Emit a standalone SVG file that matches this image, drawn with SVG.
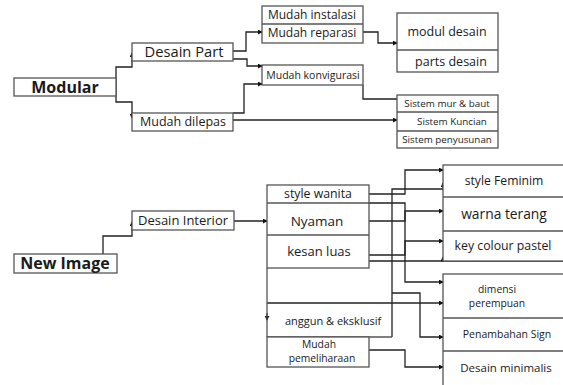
<svg xmlns="http://www.w3.org/2000/svg" width="563" height="385" viewBox="0 0 563 385">
<style>
.b{fill:#fff;stroke:#555;stroke-width:1.3}
.l{fill:none;stroke:#555;stroke-width:1.3}
.c{fill:none;stroke:#222;stroke-width:1.3}
text{font-family:"Open Sans","Liberation Sans",Arial,sans-serif;fill:#1a1a1a;text-anchor:middle}
</style>
<defs>
<marker id="a" viewBox="0 0 6 6" refX="5" refY="3" markerWidth="5" markerHeight="5" markerUnits="userSpaceOnUse" orient="auto"><path d="M0,0L6,3L0,6z" fill="#111"/></marker>
</defs>
<rect width="563" height="385" fill="#fff"/>
<g id="connectors">
<path class="c" d="M116,87V67H132V53" marker-end="url(#a)"/>
<path class="c" d="M116,87V102H132V118" marker-end="url(#a)"/>
<path class="c" d="M233,51H246V32H262" marker-end="url(#a)"/>
<path class="c" d="M233,59H247V66H262" marker-end="url(#a)"/>
<path class="c" d="M233,113H244V84H262" marker-end="url(#a)"/>
<path class="c" d="M233,120H397" marker-end="url(#a)"/>
<path class="c" d="M363,32H378V43H397" marker-end="url(#a)"/>
<path class="c" d="M363,85V99H397"/>
<path class="c" d="M103,254V236H132V222" marker-end="url(#a)"/>
<path class="c" d="M234,221H267" marker-end="url(#a)"/>
<path class="c" d="M369,194H405V170H443" marker-end="url(#a)"/>
<path class="c" d="M369,203H405V282H443" marker-end="url(#a)"/>
<path class="c" d="M369,221H405V211H443" marker-end="url(#a)"/>
<path class="c" d="M369,255H405V241H443" marker-end="url(#a)"/>
<path class="c" d="M369,261H563"/>
<path class="c" d="M443,262V257" marker-end="url(#a)"/>
<path class="c" d="M392,337V189H443V183" marker-end="url(#a)"/>
<path class="c" d="M392,293H420V337H443" marker-end="url(#a)"/>
<path class="c" d="M267,303H443" marker-end="url(#a)"/>
<path class="c" d="M369,350H405V367H443" marker-end="url(#a)"/>
<path class="c" d="M267,313V320" marker-end="url(#a)"/>
</g>
<g id="modular"><rect class="b" x="14" y="78" width="102" height="18"/><text x="65" y="93" font-size="16" font-weight="bold">Modular</text></g>
<g id="desain-part"><rect class="b" x="132" y="43" width="101" height="18"/><text x="184" y="57" font-size="14.7">Desain Part</text></g>
<g id="mudah-dilepas"><rect class="b" x="132" y="113" width="101" height="18"/><text x="183" y="126" font-size="12.5">Mudah dilepas</text></g>
<g id="mudah-instalasi-reparasi"><rect class="b" x="262" y="6" width="101" height="37"/><line class="l" x1="262" y1="24" x2="363" y2="24"/><text x="312" y="19" font-size="12">Mudah instalasi</text><text x="312" y="37" font-size="12">Mudah reparasi</text></g>
<g id="mudah-konvigurasi"><rect class="b" x="262" y="65" width="101" height="20"/><text x="313" y="79" font-size="10.5">Mudah konvigurasi</text></g>
<g id="modul-parts"><rect class="b" x="397" y="13" width="101" height="59"/><line class="l" x1="397" y1="50" x2="498" y2="50"/><text x="447" y="36" font-size="12.5">modul desain</text><text x="451" y="66" font-size="12.5">parts desain</text></g>
<g id="sistem"><rect class="b" x="397" y="95" width="101" height="53"/><line class="l" x1="397" y1="112" x2="498" y2="112"/><line class="l" x1="397" y1="131" x2="498" y2="131"/><text x="447" y="107" font-size="9.8">Sistem mur &amp; baut</text><text x="452" y="125" font-size="9.8">Sistem Kuncian</text><text x="447" y="143" font-size="9.8">Sistem penyusunan</text></g>
<g id="new-image"><rect class="b" x="14" y="254" width="103" height="19"/><text x="65" y="269" font-size="16" font-weight="bold">New Image</text></g>
<g id="desain-interior"><rect class="b" x="132" y="211" width="102" height="19"/><text x="183" y="225" font-size="13">Desain Interior</text></g>
<g id="left-stack">
<rect class="b" x="267" y="185" width="102" height="83"/>
<line class="l" x1="267" y1="203" x2="369" y2="203"/>
<line class="l" x1="267" y1="235" x2="369" y2="235"/>
<line class="l" x1="267" y1="268" x2="267" y2="337"/>
<line class="l" x1="267" y1="337" x2="392" y2="337"/>
<text x="318" y="198" font-size="12.3">style wanita</text>
<text x="317" y="226" font-size="13.5">Nyaman</text>
<text x="319" y="256" font-size="13">kesan luas</text>
<text x="333" y="325" font-size="11">anggun &amp; eksklusif</text>
</g>
<g id="mudah-pemeliharaan"><rect class="b" x="267" y="337" width="102" height="30"/><text x="319" y="348" font-size="10.3">Mudah</text><text x="322" y="362" font-size="10.3">pemeliharaan</text></g>
<g id="right-top"><rect class="b" x="443" y="165" width="130" height="96"/><line class="l" x1="443" y1="197" x2="573" y2="197"/><line class="l" x1="443" y1="231" x2="573" y2="231"/><text x="504" y="185" font-size="12.2">style Feminim</text><text x="504" y="219" font-size="13.8">warna terang</text><text x="503" y="250" font-size="12.3">key colour pastel</text></g>
<g id="right-bottom"><rect class="b" x="443" y="274" width="130" height="120"/><line class="l" x1="443" y1="318" x2="573" y2="318"/><line class="l" x1="443" y1="351" x2="573" y2="351"/><text x="497" y="293" font-size="10.3">dimensi</text><text x="497" y="307" font-size="10.3">perempuan</text><text x="507" y="338" font-size="10.5">Penambahan Sign</text><text x="506" y="372" font-size="11.5">Desain minimalis</text></g>
</svg>
